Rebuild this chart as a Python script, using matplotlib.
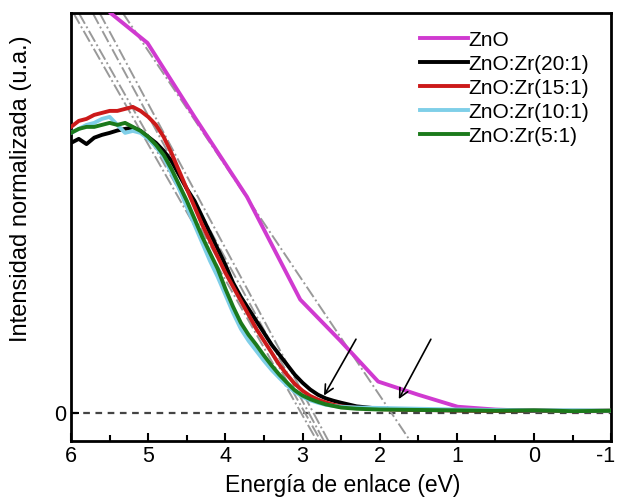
import matplotlib
matplotlib.use("Agg")
import matplotlib.pyplot as plt
from matplotlib.ticker import MultipleLocator
from matplotlib.transforms import ScaledTranslation

plt.rcParams['font.family'] = ['Liberation Sans', 'DejaVu Sans']
plt.rcParams['axes.unicode_minus'] = False

# ZnO (sin dopar)
e_zno = [5.60, 5.49, 5.01, 4.40, 3.72, 3.03, 2.51, 2.02, 1.50, 0.99, 0.50, 0.04, -0.50, -1.00]
i_zno = [1.03, 1.00, 0.925, 0.74, 0.54, 0.283, 0.18, 0.078, 0.045, 0.015, 0.008, 0.005, 0.004, 0.004]

# muestras dopadas
e_dop = [6.0, 5.9, 5.8, 5.7, 5.6, 5.5, 5.4, 5.3, 5.2, 5.1, 5.0, 4.9, 4.8, 4.7, 4.6,
         4.5, 4.4, 4.3, 4.2, 4.1, 4.0, 3.9, 3.8, 3.7, 3.6, 3.5, 3.4, 3.3, 3.2, 3.1,
         3.0, 2.9, 2.8, 2.7, 2.6, 2.5, 2.3, 2.0, 1.5, 1.0, 0.5, 0.0, -0.5, -1.0]
i_20 = [0.675, 0.685, 0.672, 0.688, 0.695, 0.700, 0.706, 0.710, 0.713, 0.705, 0.690, 0.675, 0.655, 0.630, 0.595,
        0.560, 0.530, 0.490, 0.450, 0.410, 0.370, 0.325, 0.290, 0.260, 0.230, 0.200, 0.170, 0.145, 0.120, 0.095,
        0.075, 0.058, 0.045, 0.036, 0.030, 0.025, 0.016, 0.010, 0.007, 0.006, 0.005, 0.005, 0.005, 0.005]
i_15 = [0.715, 0.730, 0.735, 0.745, 0.750, 0.755, 0.755, 0.760, 0.765, 0.755, 0.740, 0.720, 0.690, 0.650, 0.605,
        0.560, 0.515, 0.470, 0.430, 0.390, 0.350, 0.315, 0.280, 0.245, 0.210, 0.180, 0.150, 0.120, 0.095, 0.072,
        0.055, 0.042, 0.033, 0.026, 0.020, 0.016, 0.012, 0.009, 0.007, 0.006, 0.005, 0.006, 0.004, 0.005]
i_10 = [0.700, 0.710, 0.720, 0.725, 0.735, 0.740, 0.720, 0.700, 0.705, 0.700, 0.685, 0.665, 0.640, 0.600, 0.560,
        0.515, 0.470, 0.425, 0.380, 0.340, 0.295, 0.250, 0.210, 0.180, 0.155, 0.130, 0.107, 0.087, 0.068, 0.052,
        0.040, 0.031, 0.025, 0.020, 0.017, 0.015, 0.013, 0.012, 0.010, 0.008, 0.007, 0.006, 0.006, 0.005]
i_5 = [0.700, 0.710, 0.715, 0.715, 0.720, 0.725, 0.720, 0.725, 0.715, 0.705, 0.690, 0.670, 0.645, 0.610, 0.570,
       0.530, 0.485, 0.440, 0.400, 0.360, 0.310, 0.265, 0.225, 0.195, 0.170, 0.143, 0.118, 0.095, 0.075, 0.056,
       0.043, 0.034, 0.027, 0.021, 0.017, 0.013, 0.010, 0.008, 0.007, 0.006, 0.005, 0.006, 0.004, 0.005]

series = [
    ('ZnO', e_zno, i_zno, '#d03ad0'),
    ('ZnO:Zr(20:1)', e_dop, i_20, '#000000'),
    ('ZnO:Zr(15:1)', e_dop, i_15, '#cc1a1a'),
    ('ZnO:Zr(10:1)', e_dop, i_10, '#7fcfe8'),
    ('ZnO:Zr(5:1)', e_dop, i_5, '#1b7a1b'),
]

# tangentes (x en y=1, x en y=0)
tangentes = [(5.97, 3.02), (5.90, 2.97), (5.72, 2.92), (5.63, 2.86), (5.33, 1.85)]

# flechas: (cola x, cola y, punta x, punta y)
flechas = [(2.29, 0.19, 2.74, 0.037), (1.32, 0.19, 1.77, 0.028)]

fig = plt.figure(figsize=(6.18, 4.98), dpi=100)
ax = fig.add_axes([0.115, 0.115, 0.874, 0.859])

ax.axhline(0, color='#444444', lw=1.6, ls=(0, (3, 2.5)), zorder=1)

for x1, x0 in tangentes:
    ax.plot([x1, x0 - (x1 - x0) * 0.1], [1.0, -0.1], color='#999999', lw=1.4, ls='-.', zorder=2)

for nombre, e, i, c in series:
    ax.plot(e, i, color=c, lw=2.8, label=nombre, zorder=3)

for tx, ty, hx, hy in flechas:
    ax.annotate('', xy=(hx, hy), xytext=(tx, ty),
                arrowprops=dict(arrowstyle='->', color='black', lw=1.2,
                                mutation_scale=16), zorder=5)

ax.set_xlim(6, -1)
ax.set_ylim(-0.07, 1.0)
ax.set_yticks([0])
ax.set_xticks([6, 5, 4, 3, 2, 1, 0, -1])
ax.xaxis.set_minor_locator(MultipleLocator(0.5))
ax.tick_params(axis='both', which='major', direction='in', length=6, width=1.5, labelsize=15.5)
ax.tick_params(axis='x', which='minor', direction='in', length=4, width=1.5)
for s in ax.spines.values():
    s.set_linewidth(2)

ax.set_xlabel('Energía de enlace (eV)', fontsize=16.5)
ax.set_ylabel('Intensidad normalizada (u.a.)', fontsize=17)
ax.xaxis.set_label_coords(0.502, -0.078)
ax.yaxis.set_label_coords(-0.072, 0.589)

ax.legend(loc='upper right', bbox_to_anchor=(0.975, 0.978), frameon=False, fontsize=15,
          handlelength=2.3, handletextpad=0.05, labelspacing=0.24, borderaxespad=0)

# desplazar un poco la etiqueta "-1" para que no quede cortada
fig.canvas.draw()
for tick in ax.xaxis.get_major_ticks():
    if tick.get_loc() == -1:
        lbl = tick.label1
        lbl.set_transform(lbl.get_transform() + ScaledTranslation(-4 / 72, 0, fig.dpi_scale_trans))

fig.savefig('out.png', dpi=100)
